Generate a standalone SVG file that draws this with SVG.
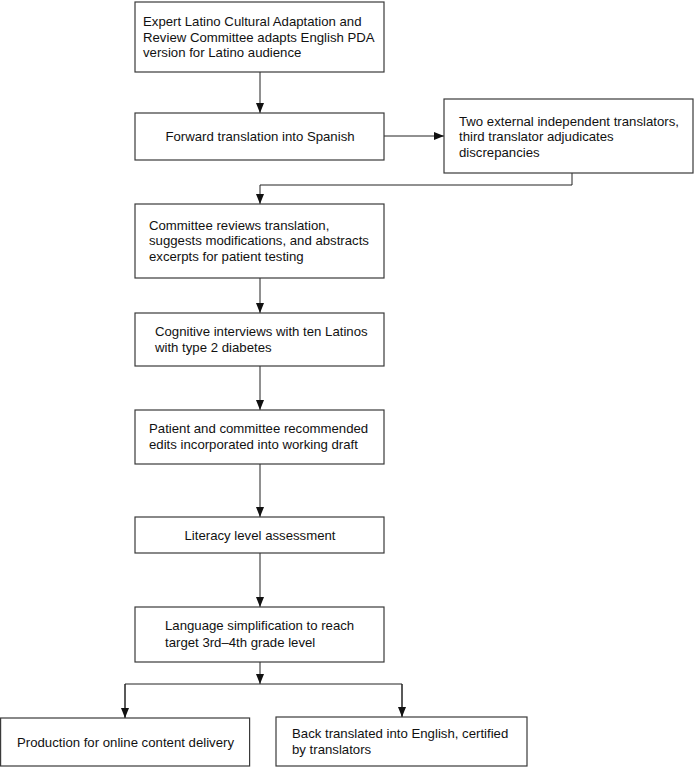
<svg xmlns="http://www.w3.org/2000/svg" width="694" height="767" viewBox="0 0 694 767">
<defs>
<style>
.box{fill:#fff;stroke:#3a3a3a;stroke-width:1.2}
.t{font-family:"Liberation Sans",Arial,sans-serif;font-size:13.2px;fill:#111}
.c{text-anchor:middle}
.ln{fill:none;stroke:#222;stroke-width:1}
</style>
<marker id="ah" markerUnits="userSpaceOnUse" markerWidth="10" markerHeight="10" viewBox="0 0 10 10" refX="10" refY="5" orient="auto">
<path d="M0,1 L10,5 L0,9 Z" fill="#111"/>
</marker>
</defs>
<rect width="694" height="767" fill="#fff"/>
<g id="connectors">
<line class="ln" x1="260" y1="72" x2="260" y2="113" marker-end="url(#ah)"/>
<line class="ln" x1="384" y1="136" x2="444" y2="136" marker-end="url(#ah)"/>
<polyline class="ln" points="572,173 572,185 260,185 260,204" marker-end="url(#ah)"/>
<line class="ln" x1="260" y1="278" x2="260" y2="313" marker-end="url(#ah)"/>
<line class="ln" x1="260" y1="366" x2="260" y2="410" marker-end="url(#ah)"/>
<line class="ln" x1="260" y1="464" x2="260" y2="517" marker-end="url(#ah)"/>
<line class="ln" x1="260" y1="553" x2="260" y2="607" marker-end="url(#ah)"/>
<line class="ln" x1="260" y1="662" x2="260" y2="684" marker-end="url(#ah)"/>
<polyline class="ln" points="125,718 125,684 402,684 402,717"/>
<line class="ln" x1="125" y1="684" x2="125" y2="718" marker-end="url(#ah)"/>
<line class="ln" x1="402" y1="684" x2="402" y2="717" marker-end="url(#ah)"/>
</g>
<g id="n1">
<rect class="box" x="135" y="2" width="249" height="70"/>
<text class="t" x="143" y="26">Expert Latino Cultural Adaptation and</text>
<text class="t" x="143" y="41.5">Review Committee adapts English PDA</text>
<text class="t" x="143" y="57">version for Latino audience</text>
</g>
<g id="n2">
<rect class="box" x="135" y="113" width="249" height="47"/>
<text class="t c" x="260" y="140.5">Forward translation into Spanish</text>
</g>
<g id="n3">
<rect class="box" x="444" y="99" width="249" height="74"/>
<text class="t" x="459" y="125.5">Two external independent translators,</text>
<text class="t" x="459" y="141">third translator adjudicates</text>
<text class="t" x="459" y="156.5">discrepancies</text>
</g>
<g id="n4">
<rect class="box" x="135" y="204" width="249" height="74"/>
<text class="t" x="149" y="229.5">Committee reviews translation,</text>
<text class="t" x="149" y="245">suggests modifications, and abstracts</text>
<text class="t" x="149" y="260.5">excerpts for patient testing</text>
</g>
<g id="n5">
<rect class="box" x="135" y="313" width="249" height="53"/>
<text class="t" x="155" y="335.5">Cognitive interviews with ten Latinos</text>
<text class="t" x="155" y="351.5">with type 2 diabetes</text>
</g>
<g id="n6">
<rect class="box" x="135" y="410" width="249" height="54"/>
<text class="t" x="149" y="432.5">Patient and committee recommended</text>
<text class="t" x="149" y="448.5">edits incorporated into working draft</text>
</g>
<g id="n7">
<rect class="box" x="135" y="517" width="249" height="36"/>
<text class="t c" x="260" y="539.5">Literacy level assessment</text>
</g>
<g id="n8">
<rect class="box" x="135" y="607" width="249" height="55"/>
<text class="t" x="165" y="630">Language simplification to reach</text>
<text class="t" x="165" y="646.5">target 3rd–4th grade level</text>
</g>
<g id="n9">
<rect class="box" x="0.6" y="718" width="249" height="48"/>
<text class="t" x="17" y="746.5">Production for online content delivery</text>
</g>
<g id="n10">
<rect class="box" x="276" y="717" width="251" height="49"/>
<text class="t" x="292" y="737.5">Back translated into English, certified</text>
<text class="t" x="292" y="753.5">by translators</text>
</g>
</svg>
